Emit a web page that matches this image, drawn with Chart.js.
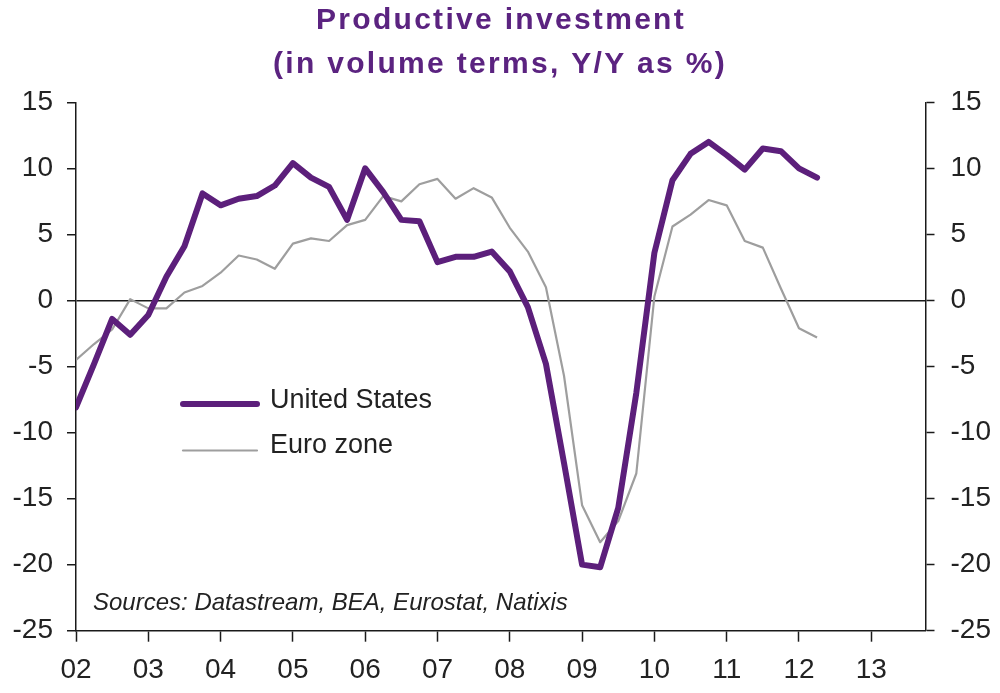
<!DOCTYPE html>
<html><head><meta charset="utf-8">
<script src="https://cdn.jsdelivr.net/npm/chart.js@4.4.1/dist/chart.umd.min.js"></script>
<style>html,body{margin:0;padding:0;background:#fff;}canvas{display:block;}</style>
</head><body>
<canvas id="c" width="1000" height="693"></canvas>
<script>
const quarters = [
  '2002Q1','2002Q2','2002Q3','2002Q4','2003Q1','2003Q2','2003Q3','2003Q4',
  '2004Q1','2004Q2','2004Q3','2004Q4','2005Q1','2005Q2','2005Q3','2005Q4',
  '2006Q1','2006Q2','2006Q3','2006Q4','2007Q1','2007Q2','2007Q3','2007Q4',
  '2008Q1','2008Q2','2008Q3','2008Q4','2009Q1','2009Q2','2009Q3','2009Q4',
  '2010Q1','2010Q2','2010Q3','2010Q4','2011Q1','2011Q2','2011Q3','2011Q4',
  '2012Q1','2012Q2'
];
const unitedStates = [
  -8.1, -4.8, -1.4, -2.6, -1.1, 1.8, 4.1, 8.1,
  7.2, 7.7, 7.9, 8.7, 10.4, 9.3, 8.6, 6.1,
  10.0, 8.2, 6.1, 6.0, 2.9, 3.3, 3.3, 3.7,
  2.2, -0.5, -4.8, -12.3, -20.0, -20.2, -15.7, -7.0,
  3.6, 9.1, 11.1, 12.0, 11.0, 9.9, 11.5, 11.3,
  10.0, 9.3
];
const euroZone = [
  -4.5, -3.3, -2.2, 0.1, -0.6, -0.6, 0.6, 1.1,
  2.1, 3.4, 3.1, 2.4, 4.3, 4.7, 4.5, 5.7,
  6.1, 7.9, 7.5, 8.8, 9.2, 7.7, 8.5, 7.8,
  5.5, 3.7, 1.0, -5.7, -15.5, -18.3, -16.7, -13.1,
  0.3, 5.6, 6.5, 7.6, 7.2, 4.5, 4.0, 0.9,
  -2.1, -2.8
];
const yearLabels = ['02','03','04','05','06','07','08','09','10','11','12','13'];
const seriesNames = ['United States', 'Euro zone'];
const titleLines = ['Productive investment', '(in volume terms, Y/Y as %)'];
const sourceNote = 'Sources: Datastream, BEA, Eurostat, Natixis';

const FONT = '"Liberation Sans", Arial, sans-serif';
const PURPLE = '#5c1f7b';
const GREY = '#9e9e9e';
const AXIS = '#1a1a1a';
const TEXT = '#222222';

const overlay = {
  id: 'overlay',
  afterDraw(chart) {
    const ctx = chart.ctx;
    ctx.save();
    // title
    ctx.font = 'bold 30px ' + FONT;
    ctx.fillStyle = '#5b2380';
    ctx.textAlign = 'center';
    ctx.textBaseline = 'alphabetic';
    ctx.letterSpacing = '2.3px';
    ctx.fillText(titleLines[0], 501, 28.5);
    ctx.fillText(titleLines[1], 500, 72.7);
    ctx.letterSpacing = '0px';
    // source
    ctx.font = 'italic 24px ' + FONT;
    ctx.fillStyle = TEXT;
    ctx.textAlign = 'left';
    ctx.fillText(sourceNote, 93, 610);
    // legend
    const items = [{y: 404, ty: 401}, {y: 450.5, ty: 446}];
    chart.data.datasets.forEach((ds, i) => {
      ctx.beginPath();
      ctx.strokeStyle = ds.borderColor;
      ctx.lineWidth = ds.borderWidth;
      ctx.lineCap = 'round';
      ctx.moveTo(183, items[i].y);
      ctx.lineTo(257, items[i].y);
      ctx.stroke();
      ctx.font = '27px ' + FONT;
      ctx.fillStyle = TEXT;
      ctx.textBaseline = 'middle';
      ctx.fillText(ds.label, 270, items[i].ty);
    });
    ctx.restore();
  }
};

const tickFont = {family: FONT, size: 28};

new Chart(document.getElementById('c'), {
  type: 'line',
  data: {
    datasets: [
      {
        label: seriesNames[0],
        data: quarters.map((q, i) => ({x: i, y: unitedStates[i]})),
        borderColor: PURPLE, borderWidth: 6, pointRadius: 0,
        borderJoinStyle: 'round', borderCapStyle: 'round', tension: 0, yAxisID: 'y'
      },
      {
        label: seriesNames[1],
        data: quarters.map((q, i) => ({x: i, y: euroZone[i]})),
        borderColor: GREY, borderWidth: 2.2, pointRadius: 0,
        borderJoinStyle: 'round', tension: 0, yAxisID: 'y'
      }
    ]
  },
  options: {
    responsive: false,
    animation: false,
    devicePixelRatio: 1,
    events: [],
    layout: {padding: {top: 102.3, left: 0, right: 0, bottom: 0}},
    plugins: {legend: {display: false}, title: {display: false}, tooltip: {enabled: false}},
    scales: {
      x: {
        type: 'linear', position: 'bottom', min: 0, max: 47,
        afterFit: s => { s.height = 62.3; },
        ticks: {
          stepSize: 4, includeBounds: false, autoSkip: false, maxRotation: 0,
          font: tickFont, color: TEXT, padding: 12,
          callback: v => yearLabels[v / 4]
        },
        grid: {drawOnChartArea: false, drawTicks: true, tickLength: 11, tickColor: AXIS, tickWidth: 1.5},
        border: {display: true, color: AXIS, width: 1.5}
      },
      y: {
        position: 'left', min: -25, max: 15,
        afterFit: s => { s.width = 76; },
        ticks: {stepSize: 5, font: tickFont, color: TEXT, padding: 14},
        grid: {
          drawOnChartArea: true, drawTicks: true, tickLength: 9,
          color: c => (c.tick && c.tick.value === 0) ? AXIS : 'rgba(0,0,0,0)',
          lineWidth: 1.5, tickColor: AXIS, tickWidth: 1.5
        },
        border: {display: true, color: AXIS, width: 1.5}
      },
      y2: {
        position: 'right', min: -25, max: 15,
        afterFit: s => { s.width = 74.5; },
        ticks: {stepSize: 5, font: tickFont, color: TEXT, padding: 16},
        grid: {drawOnChartArea: false, drawTicks: true, tickLength: 9, tickColor: AXIS, tickWidth: 1.5},
        border: {display: true, color: AXIS, width: 1.5}
      }
    }
  },
  plugins: [overlay]
});
</script>
</body></html>
